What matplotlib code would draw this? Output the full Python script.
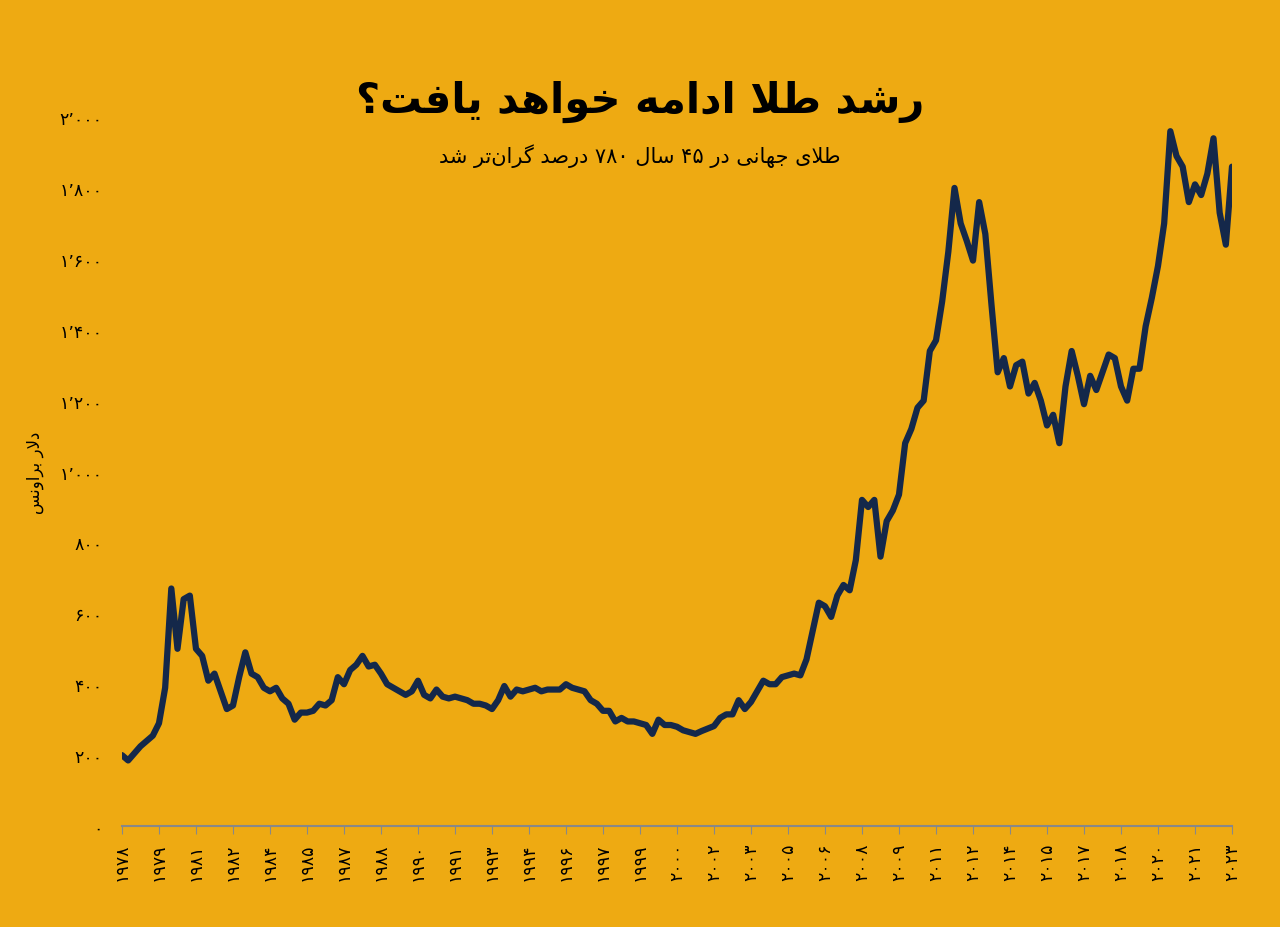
import matplotlib
matplotlib.use("Agg")
import matplotlib.pyplot as plt
import numpy as np

# ---- minimal Persian shaping (presentation forms) ----
FORMS = {  # isolated, final, initial, medial
    'ا': ('\uFE8D', '\uFE8E', None, None), 'د': ('\uFEA9', '\uFEAA', None, None),
    'ر': ('\uFEAD', '\uFEAE', None, None), 'و': ('\uFEED', '\uFEEE', None, None),
    'ز': ('\uFEAF', '\uFEB0', None, None),
    'ت': ('\uFE95', '\uFE96', '\uFE97', '\uFE98'), 'ج': ('\uFE9D', '\uFE9E', '\uFE9F', '\uFEA0'),
    'خ': ('\uFEA5', '\uFEA6', '\uFEA7', '\uFEA8'), 'س': ('\uFEB1', '\uFEB2', '\uFEB3', '\uFEB4'),
    'ش': ('\uFEB5', '\uFEB6', '\uFEB7', '\uFEB8'), 'ص': ('\uFEB9', '\uFEBA', '\uFEBB', '\uFEBC'),
    'ط': ('\uFEC1', '\uFEC2', '\uFEC3', '\uFEC4'), 'ف': ('\uFED1', '\uFED2', '\uFED3', '\uFED4'),
    'ل': ('\uFEDD', '\uFEDE', '\uFEDF', '\uFEE0'), 'م': ('\uFEE1', '\uFEE2', '\uFEE3', '\uFEE4'),
    'ن': ('\uFEE5', '\uFEE6', '\uFEE7', '\uFEE8'), 'ه': ('\uFEE9', '\uFEEA', '\uFEEB', '\uFEEC'),
    'ی': ('\uFBFC', '\uFBFD', '\uFBFE', '\uFBFF'), 'گ': ('\uFB92', '\uFB93', '\uFB94', '\uFB95'),
    'ب': ('\uFE8F', '\uFE90', '\uFE91', '\uFE92'),
}
DIGITS = set('۰۱۲۳۴۵۶۷۸۹0123456789٬,')


def dual(c):
    return c in FORMS and FORMS[c][2] is not None


def shape(text):
    chars = list(text)
    n = len(chars)
    res = []
    for i, c in enumerate(chars):
        if c not in FORMS:
            res.append(c)
            continue
        prev = chars[i - 1] if i > 0 else None
        nxt = chars[i + 1] if i + 1 < n else None
        jp = prev is not None and dual(prev)
        jn = dual(c) and nxt is not None and nxt in FORMS
        iso, fin, ini, med = FORMS[c]
        if jp and jn:
            res.append(med)
        elif jp:
            res.append(fin)
        elif jn:
            res.append(ini)
        else:
            res.append(iso)
    s = ''.join(res)
    s = s.replace('\uFEDF\uFE8E', '\uFEFB').replace('\uFEE0\uFE8E', '\uFEFC')
    s = s.replace('\u200c', '')
    runs = []
    for ch in s:
        if runs and (ch in DIGITS) and runs[-1][0] == 'd':
            runs[-1][1] += ch
        else:
            runs.append(['d' if ch in DIGITS else 'c', ch])
    return ''.join(r[1] for r in reversed(runs))


def fa_num(s):
    return s.translate(str.maketrans('0123456789,', '۰۱۲۳۴۵۶۷۸۹٬'))


# ---- data: quarterly gold price (USD/oz), from Q1 1978 ----
prices = [
    200, 185, 205, 225,  240, 255, 290, 390,  670, 500, 640, 650,
    500, 480, 410, 430,  380, 330, 340, 420,  490, 430, 420, 390,
    380, 390, 360, 345,  300, 320, 320, 325,  345, 340, 355, 420,
    400, 440, 455, 480,  450, 455, 430, 400,  390, 380, 370, 380,
    410, 370, 360, 385,  365, 360, 365, 360,  355, 345, 345, 340,
    330, 355, 395, 365,  385, 380, 385, 390,  380, 385, 385, 385,
    400, 390, 385, 380,  355, 345, 325, 325,  295, 305, 295, 295,
    290, 285, 260, 300,  285, 285, 280, 270,  265, 260, 268, 275,
    282, 305, 315, 315,  355, 330, 350, 380,  410, 400, 400, 420,
    425, 430, 425, 470,  550, 630, 620, 590,  650, 680, 665, 750,
    920, 900, 920, 760,  860, 890, 935, 1080, 1120, 1180, 1200, 1340,
    1370, 1480, 1620, 1800, 1700, 1650, 1595, 1760, 1670, 1470, 1280, 1320,
    1240, 1300, 1310, 1220, 1250, 1200, 1130, 1160, 1080, 1240, 1340, 1270,
    1190, 1270, 1230, 1280, 1330, 1320, 1240, 1200, 1290, 1290, 1410, 1490,
    1580, 1700, 1960, 1890, 1860, 1760, 1810, 1780, 1840, 1940, 1730, 1640,
    1860,
]
tick_years = [1978, 1979, 1981, 1982, 1984, 1985, 1987, 1988, 1990, 1991, 1993,
              1994, 1996, 1997, 1999, 2000, 2002, 2003, 2005, 2006, 2008, 2009,
              2011, 2012, 2014, 2015, 2017, 2018, 2020, 2021, 2023]
yticks = [0, 200, 400, 600, 800, 1000, 1200, 1400, 1600, 1800, 2000]

title = 'رشد طلا ادامه خواهد یافت؟'
subtitle = 'طلای جهانی در ۴۵ سال ۷۸۰ درصد گران\u200cتر شد'
ylabel = 'دلار براونس'

BG = '#EEAA12'
LINE = '#14284A'

plt.rcParams['font.family'] = ['DejaVu Sans']
fig = plt.figure(figsize=(12.8, 9.28), dpi=100, facecolor=BG)
ax = fig.add_axes([0.0953, 0.1088, 0.8672, 0.764])
ax.set_facecolor(BG)

x = np.arange(len(prices)) * 3
ax.plot(x, prices, color=LINE, lw=4.5, solid_joinstyle='round', solid_capstyle='round')
ax.set_xlim(0, 540)
ax.set_ylim(0, 2000)

ax.set_xticks([18 * i for i in range(len(tick_years))])
ax.set_xticklabels([fa_num(str(y)) for y in tick_years], rotation=90, fontsize=12.5)
ax.set_yticks(yticks)
ax.set_yticklabels([fa_num(f'{v:,}') for v in yticks], fontsize=12.5)
ax.tick_params(axis='y', length=0, pad=14)
ax.tick_params(axis='x', length=6, color='#888888', pad=6)
for s in ['top', 'right', 'left']:
    ax.spines[s].set_visible(False)
ax.spines['bottom'].set_color('#888888')
ax.spines['bottom'].set_linewidth(1.5)

fig.text(0.027, 0.49, shape(ylabel), rotation=90, fontsize=12, ha='center', va='center')
fig.text(0.5, 0.89, shape(title), fontsize=30, fontweight='bold', ha='center', va='center')
fig.text(0.5, 0.832, shape(subtitle), fontsize=15, ha='center', va='center')

fig.savefig('out.png', dpi=100, facecolor=BG)
